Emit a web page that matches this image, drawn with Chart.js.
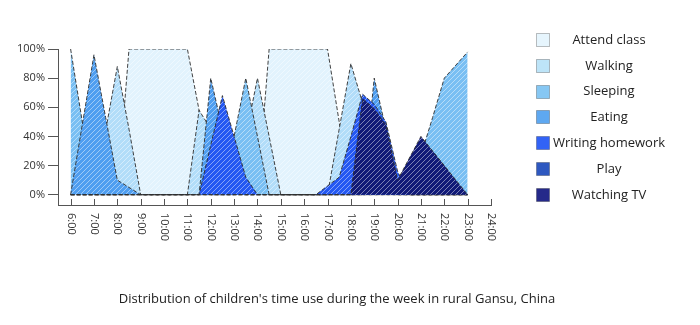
<!DOCTYPE html>
<html><head><meta charset="utf-8">
<script src="https://cdn.jsdelivr.net/npm/chart.js@4/dist/chart.umd.min.js"></script>
<style>html,body{margin:0;padding:0;background:#fff}#wrap{width:700px;height:325px;position:relative}</style>
</head><body><div id="wrap"><canvas id="c"></canvas></div>
<script>
// ---- data ----
const hours = [6,6.5,7,7.5,8,8.5,9,9.5,10,10.5,11,11.5,12,12.5,13,13.5,14,14.5,15,15.5,16,16.5,17,17.5,18,18.5,19,19.5,20,20.5,21,21.5,22,22.5,23];
const seriesNames = ["Attend class","Walking","Sleeping","Eating","Writing homework","Play","Watching TV"];
const attendClass = [0,0,0,0,0,100,100,100,100,100,100,58,0,0,0,0,0,100,100,100,100,100,100,50,0,0,0,0,0,0,0,0,0,0,0];
const walking     = [0,0,0,44,88,45,0,0,0,0,0,58,45,0,0,40,80,40,0,0,0,0,0,45,90,63,37,10,0,0,0,0,0,0,0];
const sleeping    = [100,50,0,0,0,0,0,0,0,0,0,0,0,0,40,80,40,0,0,0,0,0,0,0,0,0,0,0,0,0,27,53,80,89,98];
const eating      = [0,48,96,53,10,5,0,0,0,0,0,0,80,45,10,0,0,0,0,0,0,0,0,0,0,0,80,45,10,0,0,0,0,0,0];
const homework    = [0,0,0,0,0,0,0,0,0,0,0,0,34,68,40,12,0,0,0,0,0,0,6,12,40,69,62,50,16,0,0,0,0,0,0];
const play        = [0,0,0,0,0,0,0,0,0,0,0,0,0,0,0,0,0,0,0,0,0,0,0,0,0,30,55,45,8,0,0,0,0,0,0];
const watchingTV  = [0,0,0,0,0,0,0,0,0,0,0,0,0,0,0,0,0,0,0,0,0,0,0,0,0,66,59,48,10,25,40,30,20,10,0];
const xTickLabels = ["6:00","7:00","8:00","9:00","10:00","11:00","12:00","13:00","14:00","15:00","16:00","17:00","18:00","19:00","20:00","21:00","22:00","23:00","24:00"];
const yTickValues = [0,20,40,60,80,100];
const chartTitle = "Distribution of children's time use during the week in rural Gansu, China";

// ---- styles ----
const fillColors   = ['#e2f3fd','#b2ddf9','#79bff3','#4f9ef0','#2458f2','#2a4fb8','#111a78'];
const legendColors = ['#e6f5fd','#bde4f8','#86c7f3','#5ea8f1','#3263f6','#2e58c0','#25298a'];
const seriesValues = [attendClass, walking, sleeping, eating, homework, play, watchingTV];

function hatch(color){
  const s = 5, c = document.createElement('canvas');
  c.width = s; c.height = s;
  const g = c.getContext('2d');
  g.fillStyle = color; g.fillRect(0,0,s,s);
  g.strokeStyle = 'rgba(255,255,255,0.45)'; g.lineWidth = 1;
  g.beginPath();
  g.moveTo(-1,s+1); g.lineTo(s+1,-1);
  g.moveTo(-1,1); g.lineTo(1,-1);
  g.moveTo(s-1,s+1); g.lineTo(s+1,s-1);
  g.stroke();
  return g.createPattern(c,'repeat');
}

const datasets = seriesNames.map((name,i)=>({
  label: name,
  data: hours.map((h,k)=>({x:h, y:seriesValues[i][k]})),
  backgroundColor: hatch(fillColors[i]),
  borderColor: 'rgba(45,45,45,0.9)',
  borderWidth: 1,
  borderDash: [4,2],
  pointRadius: 0,
  tension: 0,
  fill: 'origin',
  order: seriesNames.length - i
}));

const customDraw = {
  id: 'customDraw',
  afterDraw(chart){
    const ctx = chart.ctx, xs = chart.scales.x, area = chart.chartArea;
    ctx.save();
    ctx.strokeStyle = '#555'; ctx.lineWidth = 1;
    xTickLabels.forEach(lab=>{
      const x = Math.round(xs.getPixelForValue(parseInt(lab,10))) + 0.5;
      ctx.beginPath(); ctx.moveTo(x, area.bottom); ctx.lineTo(x, area.bottom - 6); ctx.stroke();
      ctx.save();
      ctx.translate(x, area.bottom + 8);
      ctx.rotate(Math.PI/2);
      ctx.fillStyle = '#333'; ctx.font = '11px "Open Sans"';
      ctx.textAlign = 'left'; ctx.textBaseline = 'middle';
      ctx.fillText(lab, 0, 0);
      ctx.restore();
    });
    // legend
    seriesNames.forEach((name,i)=>{
      const y = 40 + i*25.8;
      ctx.fillStyle = legendColors[i];
      ctx.fillRect(536.5, Math.round(y)-6.5, 13, 13);
      ctx.strokeStyle = 'rgba(0,0,0,0.25)';
      ctx.strokeRect(536.5, Math.round(y)-6.5, 13, 13);
      ctx.fillStyle = '#222'; ctx.font = '13px "Open Sans"';
      ctx.textAlign = 'center'; ctx.textBaseline = 'middle';
      ctx.fillText(name, 609, y);
    });
    // title
    ctx.fillStyle = '#222'; ctx.font = '13px "Open Sans"';
    ctx.textAlign = 'center'; ctx.textBaseline = 'middle';
    ctx.fillText(chartTitle, 337, 299);
    ctx.restore();
  }
};

new Chart(document.getElementById('c'), {
  type: 'line',
  data: { datasets },
  options: {
    responsive: true, maintainAspectRatio: false, animation: false,
    devicePixelRatio: 1,
    layout: { padding: { left: 0, top: 49, right: 209, bottom: 120 } },
    plugins: { legend: { display: false }, tooltip: { enabled: false }, title: { display: false } },
    scales: {
      x: {
        type: 'linear', min: 5.46, max: 24,
        grid: { display: false, drawTicks: false },
        border: { display: true, color: '#555', width: 1 },
        ticks: { display: false },
        afterFit: s => { s.height = 0; }
      },
      y: {
        type: 'linear', min: -7.07, max: 100,
        afterBuildTicks: s => { s.ticks = yTickValues.map(v=>({value:v})); },
        afterFit: s => { s.width = 58; },
        grid: { drawOnChartArea: false, drawTicks: true, tickLength: 10, color: '#555', lineWidth: 1 },
        border: { display: true, color: '#555', width: 1 },
        ticks: { padding: 3, color: '#333', font: { family: '"Open Sans"', size: 11 }, callback: v => v + '%' }
      }
    }
  },
  plugins: [customDraw]
});
</script></body></html>
